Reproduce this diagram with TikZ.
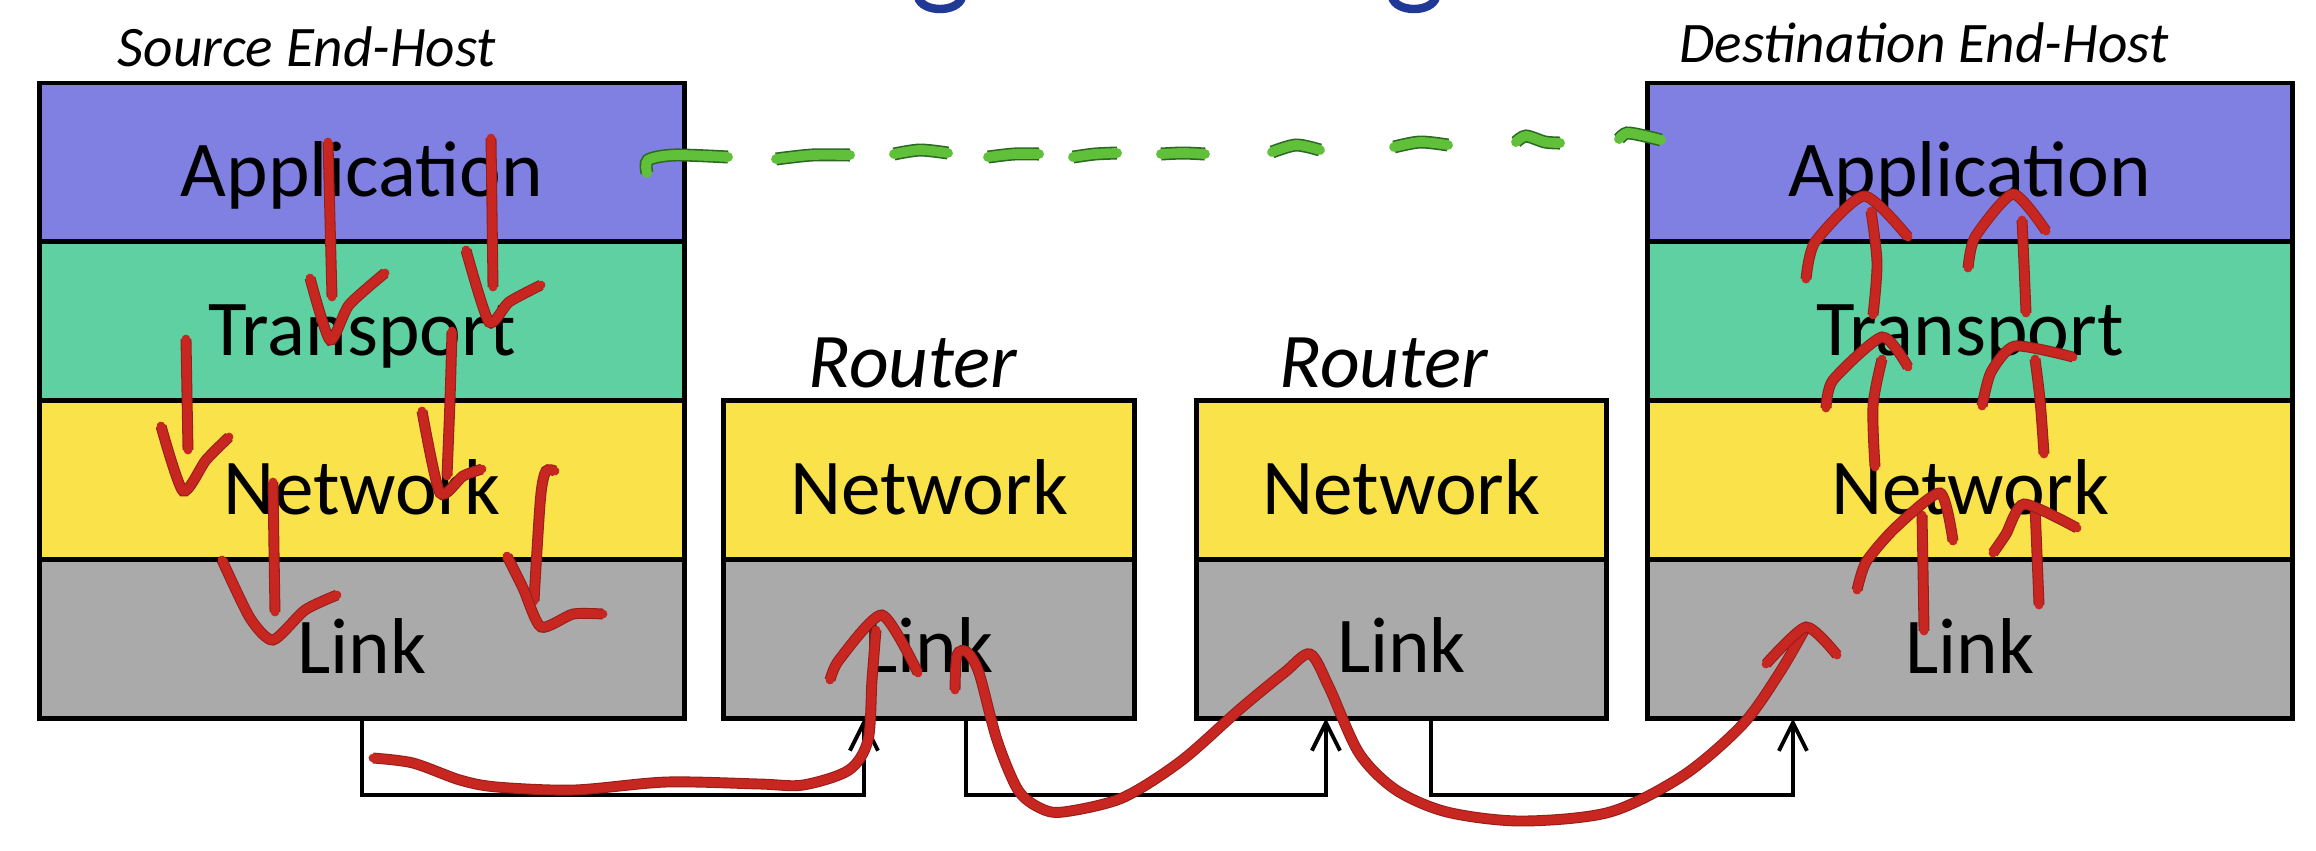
\documentclass[tikz,border=0pt]{standalone}
\usepackage{fontspec}
\setmainfont{Carlito}
\usetikzlibrary{arrows.meta}
\definecolor{appblue}{RGB}{128,128,226}
\definecolor{transgreen}{RGB}{94,208,162}
\definecolor{netyellow}{RGB}{250,226,74}
\definecolor{linkgray}{RGB}{170,170,170}
\definecolor{inkred}{RGB}{200,38,32}
\definecolor{inkdarkred}{RGB}{150,30,25}
\definecolor{inkgreen}{RGB}{96,192,58}
\definecolor{inkdarkgreen}{RGB}{44,104,34}
\definecolor{titleblue}{RGB}{32,56,150}

\begin{document}
\begin{tikzpicture}[x=0.01cm, y=-0.01cm,
    layer/.style={draw=black, line width=1.4pt, minimum height=1.5875cm, inner sep=0pt, outer sep=0pt,
        text height=19.4pt, text depth=0pt, font=\fontsize{22.5}{26}\selectfont},
    hostlayer/.style={layer, minimum width=6.44cm},
    routerlayer/.style={layer, minimum width=4.10cm},
    hostname/.style={anchor=base, font=\fontsize{16.3}{20}\selectfont\itshape},
    routername/.style={anchor=base, font=\fontsize{22}{26}\selectfont\itshape},
    conn/.style={line width=1.1pt, -{Straight Barb[length=8pt, width=8pt, line width=1.1pt]}},
    scribble/.style={inkred, line width=2.5pt, line cap=round, line join=round,
        preaction={draw=inkdarkred, line width=3.1pt}},
    greendash/.style={inkgreen, line width=2.8pt, line cap=round,
        preaction={draw=inkdarkgreen, line width=3.7pt}}]
    \useasboundingbox (0,0) rectangle (2316,850);

    % 1. cut-off title (only the descenders show)
    \draw[titleblue, line width=2.4pt] (918,-3) .. controls (922,13) and (958,13) .. (962,-3);
    \draw[titleblue, line width=2.4pt] (1392,-3) .. controls (1396,13) and (1432,13) .. (1436,-3);

    % 2. source end-host stack
    \node[hostlayer, fill=appblue, anchor=north] (srcapp) at (362,83) {Application};
    \node[hostlayer, fill=transgreen, anchor=north] (srctrans) at (srcapp.south) {Transport};
    \node[hostlayer, fill=netyellow, anchor=north] (srcnet) at (srctrans.south) {Network};
    \node[hostlayer, fill=linkgray, anchor=north] (srclink) at (srcnet.south) {Link};
    \node[hostname] (srclabel) at (307,66) {Source End-Host};

    % 3. routers
    \node[routerlayer, fill=netyellow, anchor=north] (r1net) at (929,400.5) {Network};
    \node[routerlayer, fill=linkgray, anchor=north] (r1link) at (r1net.south) {Link};
    \node[routername] (r1label) at (913,387) {Router};

    \node[routerlayer, fill=netyellow, anchor=north] (r2net) at (1401.5,400.5) {Network};
    \node[routerlayer, fill=linkgray, anchor=north] (r2link) at (r2net.south) {Link};
    \node[routername] (r2label) at (1384,387) {Router};

    % 4. destination end-host stack
    \node[hostlayer, fill=appblue, anchor=north] (dstapp) at (1970,83) {Application};
    \node[hostlayer, fill=transgreen, anchor=north] (dsttrans) at (dstapp.south) {Transport};
    \node[hostlayer, fill=netyellow, anchor=north] (dstnet) at (dsttrans.south) {Network};
    \node[hostlayer, fill=linkgray, anchor=north] (dstlink) at (dstnet.south) {Link};
    \node[hostname] (dstlabel) at (1924,62) {Destination End-Host};

    % 5. physical links between the stacks
    \draw[conn] (srclink.south) -- ++(0,77) -| ([xshift=-0.65cm]r1link.south);
    \draw[conn] ([xshift=0.37cm]r1link.south) -- ++(0,77) -| ([xshift=-0.755cm]r2link.south);
    \draw[conn] ([xshift=0.295cm]r2link.south) -- ++(0,77) -| ([xshift=-1.77cm]dstlink.south);

    % 6. green hand-drawn dashes (application to application)
    \draw[greendash] plot[smooth] coordinates {(647,173) (648,160) (674,155) (728,157)};
    \draw[greendash] plot[smooth] coordinates {(776,159) (812,155) (850,155)};
    \draw[greendash] plot[smooth] coordinates {(894,154) (920,150) (948,153)};
    \draw[greendash] plot[smooth] coordinates {(988,157) (1014,154) (1039,154)};
    \draw[greendash] plot[smooth] coordinates {(1073,157) (1095,154) (1117,153)};
    \draw[greendash] plot[smooth] coordinates {(1161,154) (1183,153) (1205,154)};
    \draw[greendash] plot[smooth] coordinates {(1272,152) (1296,145) (1320,150)};
    \draw[greendash] plot[smooth] coordinates {(1394,147) (1420,142) (1448,145)};
    \draw[greendash] plot[smooth] coordinates {(1516,142) (1526,136) (1545,142) (1560,143)};
    \draw[greendash] plot[smooth] coordinates {(1619,139) (1627,133) (1645,136) (1661,140)};

    % 7. red ink: down the source stack
    \draw[scribble] plot[smooth] coordinates {(328,142) (330,220) (332,297)};
    \draw[scribble] plot[smooth, tension=0.4] coordinates {(310,278) (330,340) (349,305) (385,273)};
    \draw[scribble] plot[smooth] coordinates {(491,138) (492,210) (493,287)};
    \draw[scribble] plot[smooth, tension=0.4] coordinates {(466,250) (489,322) (509,302) (541,285)};
    \draw[scribble] plot[smooth] coordinates {(186,339) (187,395) (188,450)};
    \draw[scribble] plot[smooth, tension=0.4] coordinates {(161,426) (183,491) (206,460) (229,437)};
    \draw[scribble] plot[smooth] coordinates {(452,331) (450,400) (447,476)};
    \draw[scribble] plot[smooth, tension=0.4] coordinates {(422,411) (440,493) (463,476) (482,469)};
    \draw[scribble] plot[smooth] coordinates {(273,482) (274,550) (275,612)};
    \draw[scribble] plot[smooth, tension=0.4] coordinates {(222,560) (250,618) (273,640) (305,610) (337,595)};
    \draw[scribble] plot[smooth] coordinates {(555,471) (546,471) (541,493) (537,550) (534,601)};
    \draw[scribble] plot[smooth, tension=0.4] coordinates {(507,556) (523,588) (541,627) (573,614) (603,614)};

    % 8. red ink: along the wires and through the routers
    \draw[scribble] plot[smooth] coordinates {(373,758) (413,763) (460,780) (497,787) (574,790) (666,782)
        (760,784) (803,785) (849,770) (868,740) (872,680) (876,630)};
    \draw[scribble] plot[smooth, tension=0.4] coordinates {(830,680) (839,660) (882,615) (918,673)};
    \draw[scribble] plot[smooth] coordinates {(955,690) (957,655) (967,652) (979,673) (997,740) (1018,790)
        (1040,808) (1063,812) (1122,798) (1181,761) (1240,709) (1285,672) (1310,654) (1329,687)
        (1359,753) (1396,790) (1447,812) (1521,821) (1610,812) (1684,775) (1743,724) (1780,672) (1806,627)};
    \draw[scribble] plot[smooth, tension=0.4] coordinates {(1766,664) (1806,627) (1837,655)};

    % 9. red ink: up the destination stack
    \draw[scribble] plot[smooth] coordinates {(1924,631) (1923,570) (1922,515)};
    \draw[scribble] plot[smooth, tension=0.4] coordinates {(1857,590) (1866,562) (1895,528) (1940,493) (1953,541)};
    \draw[scribble] plot[smooth] coordinates {(2039,605) (2037,555) (2035,506)};
    \draw[scribble] plot[smooth, tension=0.4] coordinates {(1993,553) (2006,534) (2024,504) (2077,528)};
    \draw[scribble] plot[smooth] coordinates {(1875,467) (1873,406) (1882,359)};
    \draw[scribble] plot[smooth, tension=0.4] coordinates {(1826,408) (1833,380) (1882,337) (1908,367)};
    \draw[scribble] plot[smooth] coordinates {(2044,454) (2040,400) (2035,359)};
    \draw[scribble] plot[smooth, tension=0.4] coordinates {(1982,406) (1991,372) (2015,346) (2073,357)};
    \draw[scribble] plot[smooth] coordinates {(1873,315) (1877,263) (1871,211)};
    \draw[scribble] plot[smooth, tension=0.4] coordinates {(1806,279) (1815,242) (1864,196) (1908,237)};
    \draw[scribble] plot[smooth] coordinates {(2026,313) (2024,265) (2022,220)};
    \draw[scribble] plot[smooth, tension=0.4] coordinates {(1968,268) (1975,237) (2013,194) (2046,231)};
\end{tikzpicture}
\end{document}
